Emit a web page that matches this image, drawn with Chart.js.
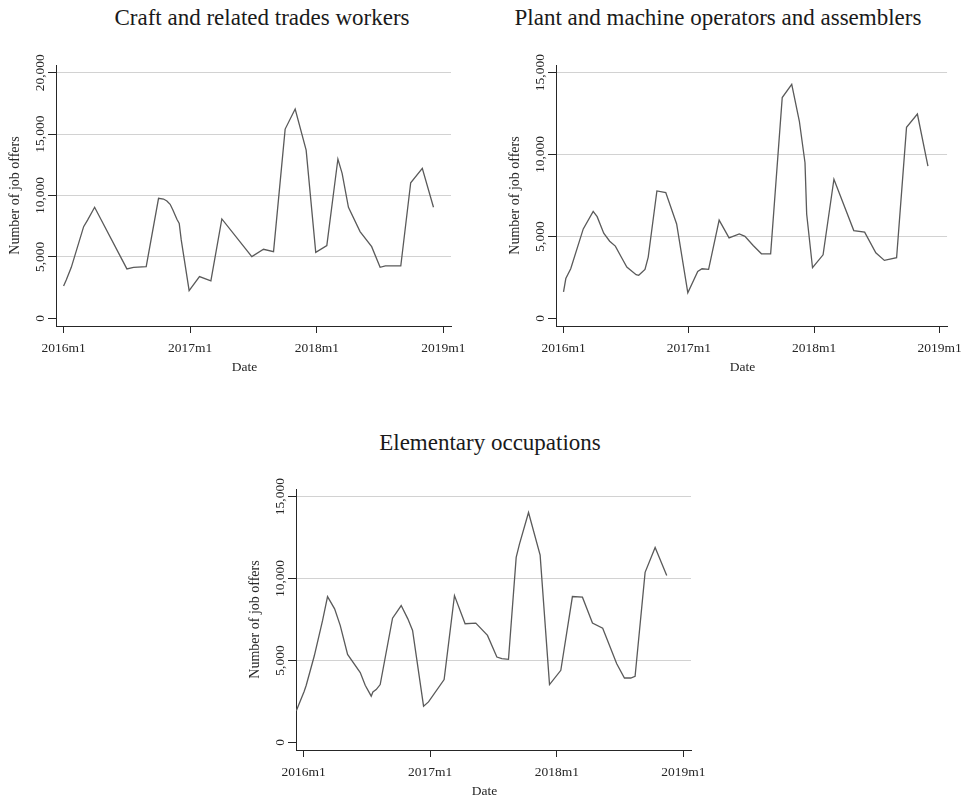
<!DOCTYPE html>
<html>
<head>
<meta charset="utf-8">
<title>Job offers by occupation</title>
<script src="https://cdn.jsdelivr.net/npm/chart.js@4.4.1/dist/chart.umd.min.js"></script>
<style>
  body { margin: 0; background: #fff; font-family: "Liberation Serif", serif; }
  #page { position: relative; width: 969px; height: 798px; overflow: hidden; }
  .title { position: absolute; font-size: 23px; line-height: 1; color: #1a1a1a; white-space: nowrap; transform: translateX(-50%); }
  canvas { position: absolute; }
</style>
</head>
<body>
<div id="page">
  <div class="title" style="left:262px;top:6px">Craft and related trades workers</div>
  <div class="title" style="left:718px;top:6px">Plant and machine operators and assemblers</div>
  <div class="title" style="left:490px;top:431px">Elementary occupations</div>
  <canvas id="craftChart" width="490" height="340" style="left:0;top:40px"></canvas>
  <canvas id="plantChart" width="469" height="340" style="left:500px;top:40px"></canvas>
  <canvas id="elemChart" width="490" height="340" style="left:240px;top:464px"></canvas>
</div>
<script>
// x = months counted from 2016m1 (0 = 2016m1, 12 = 2017m1, ...)
const craftMonths = [0, 0.25, 0.73, 1.9, 2.27, 2.94, 6.0, 6.63, 7.83, 9.0, 9.47, 9.79, 10.1, 10.36, 10.74, 10.96, 11.15, 11.9,
  12.88, 13.96, 15.0, 17.84, 18.95, 19.9, 21.0, 21.95, 22.99, 23.9, 24.95, 26.0, 26.4, 27.0, 28.1, 29.2, 30.0, 30.5, 31.96,
  32.9, 34.0, 35.06];
const craftOffers = [2630, 3120, 4150, 7460, 8000, 9040, 4020, 4150, 4210, 9770, 9710, 9550, 9280, 8820, 8060, 7730, 6380, 2250,
  3390, 3040, 8090, 5020, 5620, 5430, 15410, 17040, 13700, 5370, 5920, 12970, 11800, 9040, 7060, 5830, 4150, 4260, 4260,
  11040, 12210, 9040];

const plantMonths = [0, 0.22, 0.69, 1.89, 2.84, 3.22, 3.85, 4.42, 4.96, 5.62, 6.06, 6.95, 7.2, 7.8, 8.11, 8.94, 9.79, 10.83,
  11.9, 12.85, 13.26, 13.89, 14.9, 15.85, 16.83, 17.37, 18.16, 18.95, 19.83, 20.94, 21.85, 22.58, 23.12, 23.28, 23.84,
  24.85, 25.89, 27.79, 28.83, 29.9, 30.72, 31.89, 32.84, 33.88, 34.89];
const plantOffers = [1620, 2430, 3030, 5460, 6530, 6210, 5200, 4710, 4410, 3640, 3130, 2670, 2630, 2990, 3740, 7780, 7680, 5760,
  1560, 2870, 3030, 2990, 6000, 4910, 5150, 5010, 4450, 3940, 3940, 13480, 14290, 12030, 9500, 6370, 3090,
  3880, 8490, 5360, 5260, 4000, 3540, 3700, 11660, 12470, 9300];

const elemMonths = [-0.69, 0.06, 0.25, 1.01, 1.8, 2.27, 2.94, 3.47, 4.17, 5.37, 5.84, 6.41, 6.57, 6.88, 7.26, 8.43, 8.78, 9.25,
  9.88, 10.33, 11.37, 11.84, 13.32, 14.3, 15.31, 16.32, 17.43, 18.32, 18.79, 19.42, 20.15, 20.46, 21.32, 22.42, 23.31,
  24.38, 25.48, 26.43, 27.38, 28.35, 29.68, 30.41, 31.01, 31.42, 32.37, 33.32, 34.42];
const elemOffers = [1930, 3120, 3490, 5270, 7440, 8900, 8150, 7140, 5370, 4260, 3490, 2820, 3080, 3220, 3530, 7580, 7910, 8350,
  7540, 6830, 2210, 2470, 3830, 8960, 7240, 7280, 6530, 5210, 5110, 5070, 11290, 12100, 14030, 11430, 3530,
  4400, 8900, 8860, 7280, 6970, 4800, 3930, 3930, 4030, 10380, 11900, 10180];

const dateTicks = [0, 12, 24, 36];
const dateLabels = ["2016m1", "2017m1", "2018m1", "2019m1"];
const craftTicks = [0, 5000, 10000, 15000, 20000];
const otherTicks = [0, 5000, 10000, 15000];

const AXIS = "#262626";
const GRID = "#d2d2d2";
const LINE = "#5a5a5a";
const FAMILY = '"Liberation Serif", serif';

// rotated y tick labels and the "Date" label, stata style
const stataText = {
  id: "stataText",
  afterDraw(chart) {
    const { ctx, chartArea, scales } = chart;
    ctx.save();
    ctx.fillStyle = AXIS;
    ctx.font = "13.5px " + FAMILY;
    ctx.textAlign = "center";
    ctx.textBaseline = "middle";
    scales.y.ticks.forEach((t) => {
      ctx.save();
      ctx.translate(chartArea.left - 16, scales.y.getPixelForValue(t.value));
      ctx.rotate(-Math.PI / 2);
      ctx.fillText(t.value.toLocaleString("en-US"), 0, 0);
      ctx.restore();
    });
    ctx.fillText("Date", (chartArea.left + chartArea.right) / 2 - 9, chartArea.bottom + 41);
    ctx.restore();
  },
};

function makeChart(id, months, offers, yTicks, yMin, yMax, rightPad) {
  const points = months.map((m, i) => ({ x: m, y: offers[i] }));
  return new Chart(document.getElementById(id), {
    type: "line",
    data: {
      datasets: [{ data: points, borderColor: LINE, borderWidth: 1.3, pointRadius: 0, tension: 0, fill: false }],
    },
    options: {
      responsive: false,
      animation: false,
      devicePixelRatio: 1,
      layout: { padding: { top: 25, right: rightPad, left: 0, bottom: 0 } },
      plugins: { legend: { display: false }, tooltip: { enabled: false } },
      scales: {
        x: {
          type: "linear",
          min: -0.72,
          max: 36.72,
          afterBuildTicks: (s) => { s.ticks = dateTicks.map((v) => ({ value: v })); },
          afterFit: (s) => { s.height = 54; },
          ticks: {
            callback: (v) => dateLabels[dateTicks.indexOf(v)],
            color: AXIS,
            font: { family: FAMILY, size: 13.5 },
            padding: 7,
            maxRotation: 0,
            autoSkip: false,
          },
          grid: { drawOnChartArea: false, tickLength: 7, tickColor: AXIS },
          border: { color: AXIS, width: 1 },
        },
        y: {
          min: yMin,
          max: yMax,
          afterBuildTicks: (s) => { s.ticks = yTicks.map((v) => ({ value: v })); },
          afterFit: (s) => { s.width = 56; },
          ticks: { display: false },
          grid: {
            color: (c) => (c.tick && c.tick.value === 0 ? "rgba(0,0,0,0)" : GRID),
            tickLength: 8,
            tickColor: AXIS,
          },
          border: { color: AXIS, width: 1 },
          title: {
            display: true,
            text: "Number of job offers",
            color: AXIS,
            font: { family: FAMILY, size: 14 },
            padding: { top: 7, bottom: 0 },
          },
        },
      },
    },
    plugins: [stataText],
  });
}

makeChart("craftChart", craftMonths, craftOffers, craftTicks, -630, 20630, 39);
makeChart("plantChart", plantMonths, plantOffers, otherTicks, -465, 15465, 18);
makeChart("elemChart", elemMonths, elemOffers, otherTicks, -465, 15465, 39);
</script>
</body>
</html>
